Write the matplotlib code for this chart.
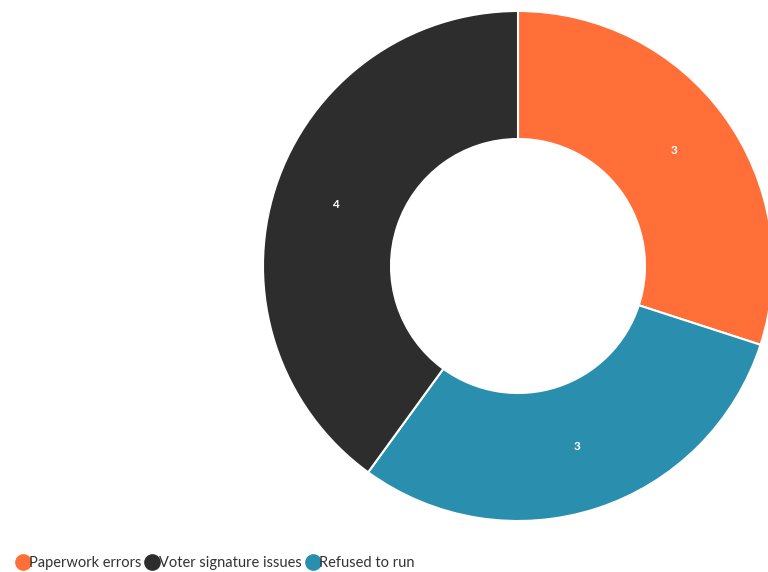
import matplotlib
matplotlib.use("Agg")
import matplotlib.pyplot as plt
from matplotlib.lines import Line2D

# reasons and counts (legend order)
categories = ["Paperwork errors", "Voter signature issues", "Refused to run"]
counts = [3, 4, 3]
colors = ["#FF6F37", "#2D2D2D", "#2A8FAE"]
# order the slices are drawn clockwise from the top
slice_order = [0, 2, 1]

plt.rcParams['font.family'] = ['Lato', 'DejaVu Sans']

fig = plt.figure(figsize=(7.68, 5.72), dpi=100)
ax = fig.add_axes([0, 0, 1, 1])
ax.set_xlim(0, 768)
ax.set_ylim(0, 572)
ax.set_aspect('equal')
ax.axis('off')

vals = [counts[i] for i in slice_order]
wedges, texts = ax.pie(
    vals, colors=[colors[i] for i in slice_order], startangle=90,
    counterclock=False, center=(518, 306), radius=255,
    labels=[str(v) for v in vals], labeldistance=0.755,
    wedgeprops=dict(width=128, edgecolor='white', linewidth=1.5),
    textprops=dict(color='white', fontsize=8.5, fontweight='bold'),
)
for t in texts:
    t.set_ha('center')
    t.set_va('center')
    x, y = t.get_position()
    t.set_position((x, y + 2.5))
ax.set_xlim(0, 768)
ax.set_ylim(0, 572)

handles = [Line2D([], [], marker='o', linestyle='', markersize=11,
                  markerfacecolor=c, markeredgecolor=c) for c in colors]
ax.legend(handles, categories, loc='lower left', bbox_to_anchor=(0.0, -0.02),
          ncol=3, frameon=False, fontsize=10.5, handletextpad=-0.2,
          columnspacing=0.1, handlelength=1.3, labelcolor='#333333')

plt.savefig("out.png", dpi=100)
plt.close()
